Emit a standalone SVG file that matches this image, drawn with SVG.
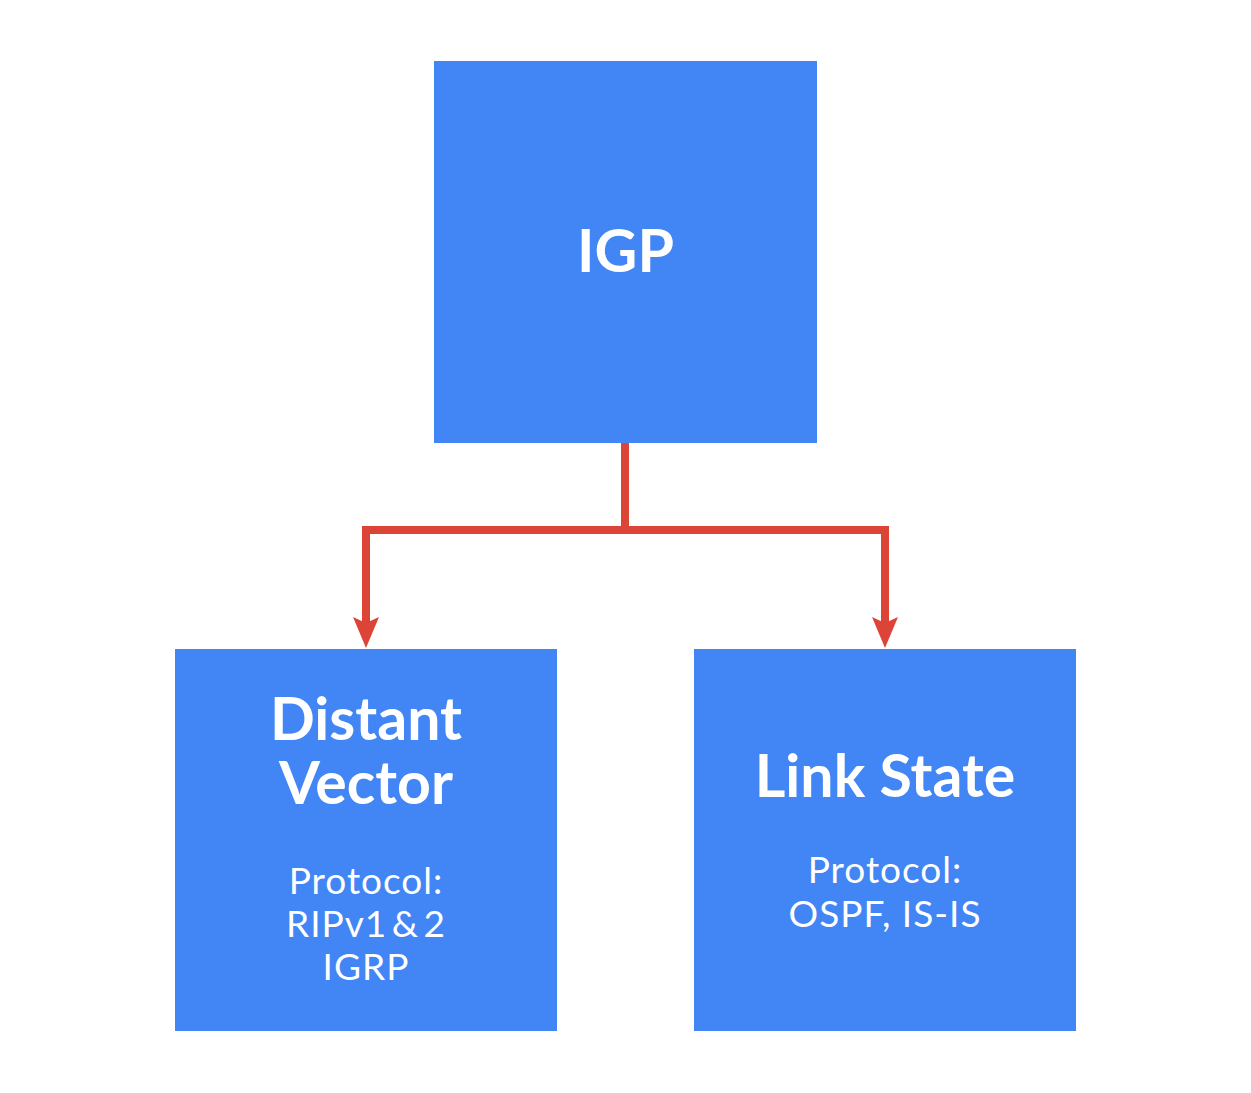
<svg xmlns="http://www.w3.org/2000/svg" width="1251" height="1093" viewBox="0 0 1251 1093">
<defs>
<style>
.box{fill:#4285F4}
.title{font-family:Lato,"Open Sans","Liberation Sans",sans-serif;font-weight:700;font-size:59px;fill:#fff;text-anchor:middle}
.sub{font-family:Lato,"Open Sans","Liberation Sans",sans-serif;font-weight:400;font-size:37px;letter-spacing:1px;fill:#fff;text-anchor:middle}
.tight{word-spacing:-6px}
.wire{fill:none;stroke:#DB4437;stroke-width:8}
.head{fill:#DB4437}
</style>
</defs>
<rect width="1251" height="1093" fill="#fff"/>
<g id="connectors">
<polyline class="wire" points="625,443 625,530 366,530 366,624"/>
<polyline class="wire" points="625,530 885,530 885,624"/>
<path class="head" d="M366,648 L353,617 L366,623 L379,617 Z"/>
<path class="head" d="M885,648 L872,617 L885,623 L898,617 Z"/>
</g>
<g id="igp">
<rect class="box" x="434" y="61" width="383" height="382"/>
<text class="title" x="625.5" y="272">IGP</text>
</g>
<g id="distant-vector">
<rect class="box" x="175" y="649" width="382" height="382"/>
<text class="title" x="366" y="740">Distant</text>
<text class="title" x="366" y="804">Vector</text>
<text class="sub" x="366" y="894">Protocol:</text>
<text class="sub tight" x="366" y="937">RIPv1 &amp; 2</text>
<text class="sub" x="366" y="980">IGRP</text>
</g>
<g id="link-state">
<rect class="box" x="694" y="649" width="382" height="382"/>
<text class="title" x="885" y="797">Link State</text>
<text class="sub" x="885" y="883">Protocol:</text>
<text class="sub" x="885" y="927">OSPF, IS-IS</text>
</g>
</svg>
